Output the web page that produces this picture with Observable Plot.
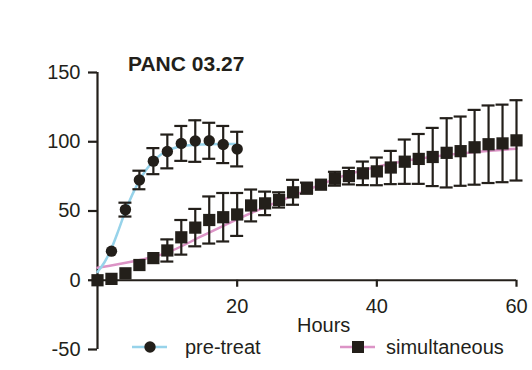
<!DOCTYPE html>
<html>
<head>
<meta charset="utf-8">
<script src="https://cdn.jsdelivr.net/npm/d3@7"></script>
<script src="https://cdn.jsdelivr.net/npm/@observablehq/plot@0.6"></script>
<style>
  html, body { margin: 0; padding: 0; background: #fff; }
  #wrap { position: relative; width: 532px; height: 370px; font-family: "Liberation Sans", Arial, sans-serif; }
  #wrap > svg.overlay { position: absolute; left: 0; top: 0; pointer-events: none; }
</style>
</head>
<body>
<div id="wrap"></div>
<script>
// ---- data ----
const title = "PANC 03.27";
const xLabel = "Hours";
const seriesNames = ["pre-treat", "simultaneous"];
const xTicks = [20, 40, 60];
const yTicks = [-50, 0, 50, 100, 150];

const preHours = [0, 2, 4, 6, 8, 10, 12, 14, 16, 18, 20];
const preMean  = [0, 21, 51, 72.4, 86, 93, 98.8, 100.5, 100.7, 98, 94.7];
const preErr   = [0, 0, 5, 6.7, 9.4, 12.2, 12.6, 15, 13, 13.4, 12.5];

const simHours = [0, 2, 4, 6, 8, 10, 12, 14, 16, 18, 20, 22, 24, 26, 28, 30, 32, 34, 36, 38, 40, 42, 44, 46, 48, 50, 52, 54, 56, 58, 60];
const simMean  = [0, 1, 5, 11, 16, 21.5, 31, 38, 43.5, 45.5, 47.5, 54, 55.5, 58, 63.5, 66.5, 69, 73.3, 75.2, 77.2, 78.6, 81.4, 85.6, 87.6, 89, 92, 93.2, 96, 98.2, 98.8, 101];
const simErr   = [0, 0, 0, 0, 0, 8, 12.5, 13.5, 17, 17.5, 15.5, 11.5, 8.5, 5.5, 9, 4, 0, 5, 6, 8.5, 10, 12, 16, 18, 21, 25, 25, 27, 28, 28, 29];

const preFitHours  = [0, 1, 2, 3, 4, 5, 6, 7, 8, 9, 10, 11, 12, 14, 16, 18, 20];
const preFitValues = [6, 13, 23, 36, 50, 62, 72, 80, 86, 90.5, 93.5, 95.5, 96.8, 97.8, 98.2, 98.3, 98.3];

const simFitHours  = [0, 5, 10, 15, 20, 25, 30, 35, 40, 45, 50, 55, 60];
const simFitValues = [9, 13.5, 20, 32, 44, 55, 65, 75, 82, 87, 90.5, 93, 95];

// ---- styling ----
const ink = "#231f1a";
const blue = "#97d3ea";
const pink = "#dc94c6";
const sw = 2.2;

const pre = preHours.map((h, i) => ({h, v: preMean[i], e: preErr[i]}));
const sim = simHours.map((h, i) => ({h, v: simMean[i], e: simErr[i]}));
const preFit = preFitHours.map((h, i) => ({h, v: preFitValues[i]}));
const simFit = simFitHours.map((h, i) => ({h, v: simFitValues[i]}));
const preBars = pre.filter(d => d.e > 0);
const simBars = sim.filter(d => d.e > 0);

const plot = Plot.plot({
  width: 532,
  height: 370,
  marginLeft: 97,
  marginRight: 16,
  marginTop: 72,
  marginBottom: 21,
  x: {domain: [0, 60], axis: null},
  y: {domain: [-50, 150], axis: null},
  style: {fontFamily: "'Liberation Sans', Arial, sans-serif", fontSize: "20px", color: ink, background: "transparent", overflow: "visible"},
  marks: [
    Plot.axisY(yTicks, {tickSize: 9, tickPadding: 8, strokeWidth: sw, fontSize: 20, label: null, color: ink, tickFormat: d => String(d)}),
    Plot.ruleX([0], {stroke: ink, strokeWidth: sw}),
    Plot.ruleY([0], {stroke: ink, strokeWidth: sw}),
    Plot.ruleX(xTicks, {x: d => d, y1: 0, y2: 0, insetBottom: -7, stroke: ink, strokeWidth: sw}),
    Plot.text(xTicks, {x: d => d, y: 0, text: d => `${d}`, dy: 26, fill: ink, fontSize: 20}),
    Plot.line(simFit, {x: "h", y: "v", stroke: pink, strokeWidth: 2.5, curve: "monotone-x"}),
    Plot.line(preFit, {x: "h", y: "v", stroke: blue, strokeWidth: 2.5, curve: "monotone-x"}),
    Plot.ruleX(preBars, {x: "h", y1: d => d.v - d.e, y2: d => d.v + d.e, stroke: ink, strokeWidth: sw}),
    Plot.ruleY(preBars, {y: d => d.v + d.e, x1: "h", x2: "h", insetLeft: -6.5, insetRight: -6.5, stroke: ink, strokeWidth: sw}),
    Plot.ruleY(preBars, {y: d => d.v - d.e, x1: "h", x2: "h", insetLeft: -6.5, insetRight: -6.5, stroke: ink, strokeWidth: sw}),
    Plot.ruleX(simBars, {x: "h", y1: d => d.v - d.e, y2: d => d.v + d.e, stroke: ink, strokeWidth: sw}),
    Plot.ruleY(simBars, {y: d => d.v + d.e, x1: "h", x2: "h", insetLeft: -6.5, insetRight: -6.5, stroke: ink, strokeWidth: sw}),
    Plot.ruleY(simBars, {y: d => d.v - d.e, x1: "h", x2: "h", insetLeft: -6.5, insetRight: -6.5, stroke: ink, strokeWidth: sw}),
    Plot.dot(pre, {x: "h", y: "v", r: 5.7, fill: ink, stroke: "none"}),
    Plot.dot(sim, {x: "h", y: "v", symbol: "square", r: 6.9, fill: ink, stroke: "none"})
  ]
});

const wrap = document.getElementById("wrap");
wrap.appendChild(plot);

// overlay: title, axis label and legend
const ns = "http://www.w3.org/2000/svg";
const ov = document.createElementNS(ns, "svg");
ov.setAttribute("class", "overlay");
ov.setAttribute("width", 532);
ov.setAttribute("height", 370);
function el(name, attrs, text) {
  const e = document.createElementNS(ns, name);
  for (const k in attrs) e.setAttribute(k, attrs[k]);
  if (text != null) e.textContent = text;
  ov.appendChild(e);
  return e;
}
const font = "'Liberation Sans', Arial, sans-serif";
el("text", {x: 128, y: 71, "font-family": font, "font-size": 21, "font-weight": "bold", fill: ink}, title);
el("text", {x: 297, y: 332, "font-family": font, "font-size": 20, fill: ink}, xLabel);
// legend: pre-treat
el("line", {x1: 132, x2: 167, y1: 347, y2: 347, stroke: blue, "stroke-width": 2.5});
el("circle", {cx: 150, cy: 347, r: 5.7, fill: ink});
el("text", {x: 185, y: 354, "font-family": font, "font-size": 20, fill: ink}, seriesNames[0]);
// legend: simultaneous
el("line", {x1: 340, x2: 375, y1: 347, y2: 347, stroke: pink, "stroke-width": 2.5});
el("rect", {x: 352, y: 341, width: 12, height: 12, fill: ink});
el("text", {x: 386, y: 354, "font-family": font, "font-size": 20, fill: ink}, seriesNames[1]);
wrap.appendChild(ov);
</script>
</body>
</html>
